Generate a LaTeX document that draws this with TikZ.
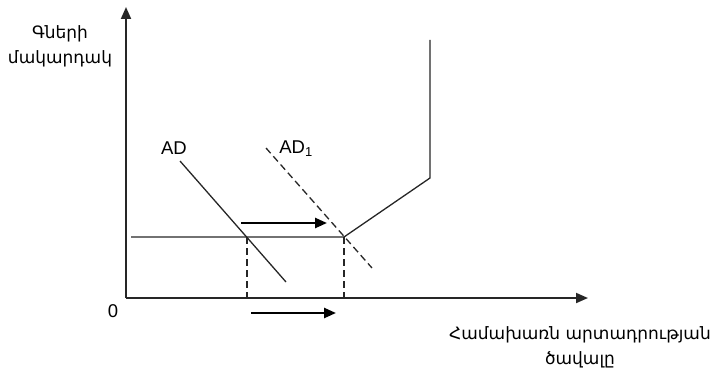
\documentclass[tikz,border=0pt]{standalone}
\usepackage{fontspec}
\setmainfont{Liberation Sans}
\newfontfamily\armfont{DejaVu Sans}
\usetikzlibrary{arrows.meta}

\begin{document}
\begin{tikzpicture}[
  x=1pt,y=-1pt,
  font=\fontsize{18.5}{22}\selectfont,
  axis/.style={-{Triangle[length=12pt,width=10pt]},line width=1.9pt,black!85},
  curve/.style={line width=1.3pt,black!85},
  dcurve/.style={curve,dash pattern=on 7pt off 4pt},
  guide/.style={line width=1.1pt,black!85,dash pattern=on 7pt off 4pt},
  shiftarr/.style={-{Triangle[length=12pt,width=10pt]},line width=2.4pt,black},
  armlabel/.style={font=\armfont\fontsize{17}{25}\selectfont,align=center}
]
\useasboundingbox (0,0) rectangle (717,369);

% Axes
\coordinate (o) at (126,298);
\coordinate (ytop) at (126,7);
\coordinate (xend) at (588,298);
\draw[axis] (o) -- (ytop);
\draw[axis] (o) -- (xend);
\node (zero) at (113,311) {0};
\node[armlabel] (ylab) at (60,46) {Գների\\մակարդակ};
\node[armlabel] (xlab) at (580,347) {Համախառն արտադրության\\ծավալը};

% Supply
\coordinate (hstart) at (131,237);
\coordinate (e0) at (247,237);
\coordinate (e1) at (344,237);
\coordinate (bend) at (430,178);
\coordinate (stop) at (430,40);
\draw[curve] (hstart) -- (e1) -- (bend) -- (stop);

% Demand
\coordinate (ad0a) at (180,161);
\coordinate (ad0b) at (286,282);
\coordinate (ad1a) at (266,148);
\coordinate (ad1b) at (372,268);
\draw[curve] (ad0a) -- (ad0b);
\draw[dcurve] (ad1a) -- (ad1b);
\node (adlab) at (174,148) {AD};
\node (ad1lab) at (296,149) {AD\textsubscript{1}};

% Guides
\coordinate (q0) at (247,298);
\coordinate (q1) at (344,298);
\draw[guide] (e0) -- (q0);
\draw[guide] (e1) -- (q1);

% Shifts
\coordinate (sa) at (241,223);
\coordinate (sb) at (327,223);
\coordinate (sc) at (251,313);
\coordinate (sd) at (336,313);
\draw[shiftarr] (sa) -- (sb);
\draw[shiftarr] (sc) -- (sd);

\end{tikzpicture}
\end{document}
